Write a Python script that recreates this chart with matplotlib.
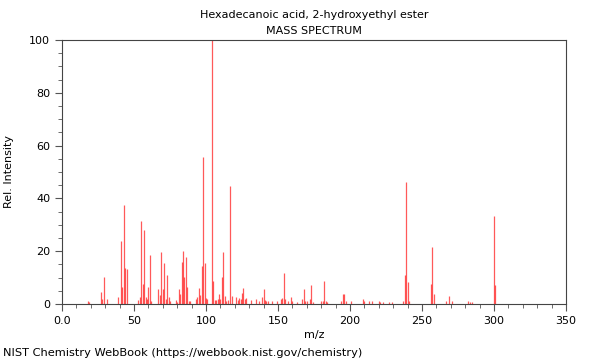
import numpy as np
import matplotlib.pyplot as plt
from matplotlib.ticker import MultipleLocator

## peaks (m/z, relative intensity)
mz = [18, 19, 27, 28, 29, 31, 39, 41, 42, 43, 44, 45,
      53, 54, 55, 56, 57, 58, 59, 60, 61, 62,
      67, 68, 69, 70, 71, 72, 73, 74, 75, 79, 80,
      81, 82, 83, 84, 85, 86, 87, 88, 89, 93, 94,
      95, 96, 97, 98, 99, 100, 101, 104, 105, 106, 107, 108,
      109, 110, 111, 112, 113, 114, 115, 117, 118,
      121, 122, 123, 124, 125, 126, 127, 128, 131, 135, 137,
      139, 140, 141, 142, 143, 146, 149, 152, 153, 154, 155,
      157, 159, 160, 163, 167, 168, 169, 170, 172, 173, 174,
      180, 181, 182, 183, 184, 194, 195, 196, 197, 201,
      209, 210, 213, 215, 220, 221, 223, 227, 229,
      237, 238, 239, 240, 241, 256, 257, 258,
      267, 269, 271, 282, 283, 285, 300, 301]
intensity = [1.2, 0.8, 4.4, 1.8, 10.1, 2.0, 2.8, 23.9, 6.4, 37.5, 13.6, 13.1,
             1.5, 2.8, 31.4, 7.6, 28.0, 2.8, 1.8, 6.3, 18.6, 1.0,
             5.6, 3.4, 19.8, 5.6, 15.7, 1.8, 11.1, 2.8, 1.0, 1.5, 0.8,
             5.6, 3.7, 15.8, 20.1, 10.2, 17.9, 6.3, 1.3, 1.0, 1.8, 2.8,
             6.0, 3.4, 14.4, 55.7, 15.4, 2.1, 2.0, 100.0, 8.8, 1.5, 1.4, 1.8,
             3.8, 1.8, 10.4, 19.8, 3.0, 1.0, 1.5, 44.8, 3.0,
             2.5, 1.5, 2.1, 2.0, 4.3, 6.0, 1.8, 2.3, 1.5, 2.0, 1.3,
             2.5, 5.6, 1.5, 1.0, 1.0, 1.3, 1.0, 1.8, 2.3, 11.9, 1.8,
             1.0, 2.8, 1.0, 0.8, 1.8, 5.6, 1.0, 1.0, 1.8, 7.3, 0.8,
             1.0, 1.3, 8.6, 1.0, 0.7, 1.0, 3.8, 3.8, 1.0, 1.0,
             1.9, 1.3, 1.3, 1.3, 1.3, 0.7, 0.7, 0.7, 0.7,
             1.1, 11.0, 46.3, 8.2, 1.0, 7.6, 21.5, 3.8,
             1.0, 3.0, 1.3, 1.0, 0.7, 0.6, 33.5, 7.2]

title = "Hexadecanoic acid, 2-hydroxyethyl ester\nMASS SPECTRUM"

fig = plt.figure(figsize=(6, 3.6), dpi=100)
ax = fig.add_axes([62/600, 56/360, 504/600, 264/360])

ax.vlines(mz, 0, intensity, color='#ff0000', linewidth=0.9, alpha=0.65)

ax.set_xlim(0, 350)
ax.set_ylim(0, 100)
ax.xaxis.set_major_locator(MultipleLocator(50))
ax.xaxis.set_minor_locator(MultipleLocator(10))
ax.yaxis.set_major_locator(MultipleLocator(20))
ax.yaxis.set_minor_locator(MultipleLocator(5))
ax.set_xticks(np.arange(0, 351, 50))
ax.set_xticklabels(['0.0'] + [str(v) for v in range(50, 351, 50)])
ax.tick_params(which='major', length=5, width=0.8, labelsize=8, color='#555555')
ax.tick_params(which='minor', length=3, width=0.6, color='#555555')
for s in ax.spines.values():
    s.set_color('#444444')
    s.set_linewidth(0.8)

ax.set_xlabel('m/z', fontsize=8, labelpad=3)
ax.set_ylabel('Rel. Intensity', fontsize=8, labelpad=11)
ax.set_title(title, fontsize=8, linespacing=1.75, pad=4)

fig.text(3/600, 1 - 353/360, 'NIST Chemistry WebBook (https://webbook.nist.gov/chemistry)',
         fontsize=8.2, va='center', ha='left')

fig.savefig('out.png', dpi=100)
